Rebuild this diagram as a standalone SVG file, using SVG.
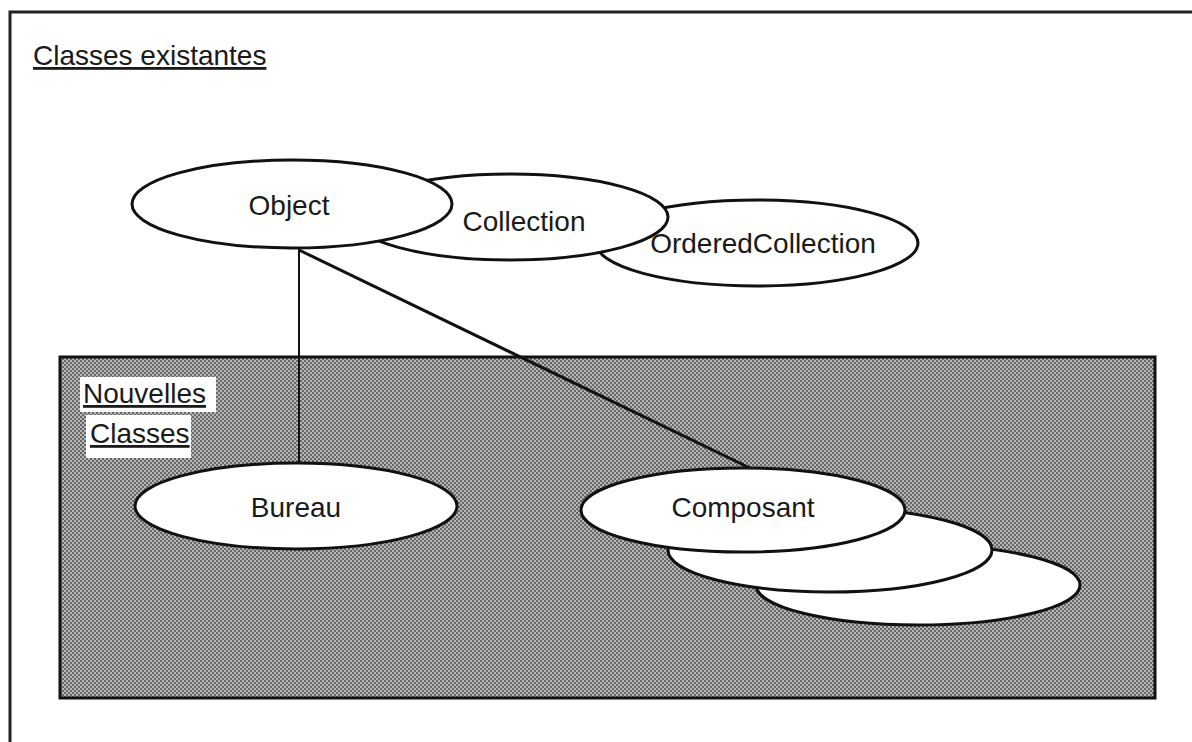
<svg xmlns="http://www.w3.org/2000/svg" width="1192" height="742" viewBox="0 0 1192 742">
<style>
.lbl{font-family:"Liberation Sans",Arial,sans-serif;font-size:28px;fill:#1a1a1a}
.node{fill:#ffffff;stroke:#111;stroke-width:3}
.conn{stroke:#111;fill:none}
</style>
<defs>
<pattern id="dither" width="4" height="4" patternUnits="userSpaceOnUse">
<rect width="4" height="4" fill="#b6b6b6"/>
<rect width="2" height="2" fill="#676767"/>
<rect x="2" y="2" width="2" height="2" fill="#676767"/>
</pattern>
</defs>
<rect width="1192" height="742" fill="#ffffff"/>
<path d="M10,742 V12 H1192" fill="none" stroke="#222" stroke-width="3"/>
<text class="lbl" x="33" y="65" text-decoration="underline">Classes existantes</text>
<g id="new-area">
<rect x="60" y="357" width="1095" height="341" fill="url(#dither)" stroke="#111" stroke-width="3"/>
<rect x="80" y="377" width="136" height="35" fill="#ffffff"/>
<rect x="86" y="415" width="105" height="43" fill="#ffffff"/>
<text class="lbl" x="83" y="403" text-decoration="underline">Nouvelles</text>
<text class="lbl" x="90" y="443" text-decoration="underline">Classes</text>
</g>
<g id="connectors">
<line class="conn" x1="299" y1="246" x2="299" y2="465" stroke-width="2"/>
<line class="conn" x1="299" y1="250" x2="752" y2="469" stroke-width="3"/>
</g>
<g id="orderedcollection">
<ellipse class="node" cx="757" cy="243" rx="161" ry="43"/>
<text class="lbl" x="763" y="253" text-anchor="middle">OrderedCollection</text>
</g>
<g id="collection">
<ellipse class="node" cx="510" cy="217" rx="158" ry="43"/>
<text class="lbl" x="524" y="231" text-anchor="middle">Collection</text>
</g>
<g id="object">
<ellipse class="node" cx="292" cy="204" rx="160" ry="44"/>
<text class="lbl" x="289" y="215" text-anchor="middle">Object</text>
</g>
<g id="bureau">
<ellipse class="node" cx="296" cy="506" rx="161" ry="43"/>
<text class="lbl" x="296" y="517" text-anchor="middle">Bureau</text>
</g>
<g id="composant">
<ellipse class="node" cx="918" cy="585" rx="162" ry="40"/>
<ellipse class="node" cx="830" cy="550" rx="162" ry="42"/>
<ellipse class="node" cx="743" cy="510" rx="162" ry="42"/>
<text class="lbl" x="743" y="517" text-anchor="middle">Composant</text>
</g>
</svg>
